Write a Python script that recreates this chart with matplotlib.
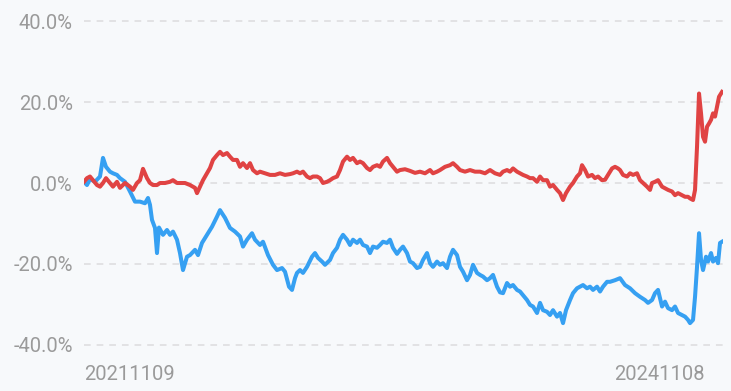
import numpy as np
import matplotlib
matplotlib.use("Agg")
import matplotlib.pyplot as plt
from matplotlib.ticker import FuncFormatter

plt.rcParams['font.family'] = ['Roboto', 'DejaVu Sans']

# ================== data (trading-day index, return %) ==================
red_t = [0, 3, 6, 9, 13, 16, 19, 22, 26, 29, 33, 36, 41, 46, 49, 53, 56, 59, 63, 66,
         69, 73, 76, 81, 86, 89, 93, 96, 101, 106, 111, 113, 116, 119, 123, 126, 129, 133, 136, 139,
         143, 146, 149, 153, 156, 159, 163, 166, 169, 173, 176, 181, 186, 191, 196, 201, 206, 209, 213, 216,
         219, 223, 226, 229, 233, 236, 239, 243, 246, 249, 253, 256, 259, 263, 266, 269, 273, 276, 279, 283,
         286, 289, 293, 296, 299, 303, 306, 309, 313, 316, 321, 326, 331, 336, 341, 346, 349, 353, 356, 361,
         366, 369, 373, 376, 381, 386, 391, 396, 401, 406, 411, 416, 419, 423, 426, 429, 433, 436, 439, 443,
         446, 449, 453, 456, 459, 463, 466, 469, 473, 476, 479, 482, 486, 489, 493, 496, 498, 501, 504, 508,
         511, 514, 518, 521, 524, 528, 531, 534, 536, 539, 543, 546, 549, 553, 556, 559, 563, 566, 568, 571,
         574, 578, 581, 584, 588, 591, 594, 598, 601, 604, 606, 609, 611, 613, 615, 617, 619, 621, 623, 625,
         627, 629, 631, 633, 635, 638]
red_v = [0.3, 1.2, 1.6, 0.7, -0.5, -0.9, 0.0, 1.2, 0.0, -0.9, 0.3, -1.2, 0.0, -0.9, -1.7, 0.0, 0.7, 3.5, 1.2, 0.0,
         -0.5, -0.5, 0.0, 0.0, 0.3, 0.7, 0.0, 0.0, 0.0, -0.5, -1.2, -2.5, -0.9, 0.7, 2.4, 3.7, 5.7, 6.9, 7.7, 6.9,
         7.4, 6.5, 5.7, 5.7, 4.0, 4.9, 3.7, 4.9, 3.2, 2.4, 2.8, 2.4, 2.0, 2.0, 2.4, 2.0, 2.2, 2.4, 2.8, 2.4,
         2.8, 1.6, 1.2, 1.6, 1.6, 1.2, 0.0, 0.3, 0.7, 1.2, 1.6, 3.2, 5.3, 6.5, 5.7, 6.2, 4.9, 5.3, 4.9, 3.7,
         3.2, 4.0, 4.4, 4.0, 5.3, 6.2, 4.9, 4.0, 2.8, 3.2, 3.4, 3.0, 2.5, 2.8, 2.4, 3.2, 2.4, 2.8, 3.2, 4.0,
         4.4, 4.9, 4.0, 3.2, 2.8, 3.2, 2.8, 2.8, 2.4, 3.2, 2.4, 2.0, 2.8, 3.2, 2.8, 3.6, 2.8, 2.4, 2.0, 1.6,
         1.2, 1.2, 0.3, 1.6, 0.7, 0.7, -0.9, -0.5, -1.7, -2.5, -4.2, -2.5, -0.9, 0.0, 1.6, 2.4, 4.4, 3.2, 1.6, 2.0,
         1.2, 1.6, 0.7, 0.8, 2.0, 3.6, 4.0, 3.6, 3.2, 2.0, 1.6, 2.4, 2.0, 2.4, 0.7, 0.0, -0.9, -1.7, 0.0, 0.3,
         0.7, -0.9, -1.3, -1.7, -2.1, -3.0, -2.5, -3.0, -3.4, -3.4, -3.8, -4.2, -1.7, 9.0, 22.1, 17.2, 11.4, 10.2, 13.9, 14.7,
         15.6, 17.2, 16.4, 18.8, 21.3, 22.5]

blue_t = [0, 3, 6, 11, 16, 19, 22, 26, 29, 33, 36, 41, 46, 51, 56, 61, 64, 66, 68, 71,
          73, 75, 79, 83, 86, 89, 93, 96, 99, 103, 106, 111, 114, 118, 123, 128, 133, 136, 141, 146,
          151, 156, 159, 163, 168, 171, 176, 179, 184, 189, 193, 198, 201, 205, 208, 211, 213, 216, 219, 223,
          228, 231, 234, 238, 241, 246, 249, 253, 256, 259, 263, 266, 269, 273, 276, 279, 283, 286, 289, 293,
          296, 299, 303, 306, 309, 313, 316, 319, 323, 326, 329, 333, 336, 339, 343, 346, 349, 353, 356, 359,
          363, 366, 369, 373, 376, 379, 383, 386, 389, 393, 396, 399, 403, 406, 409, 413, 416, 419, 423, 426,
          429, 433, 436, 439, 443, 446, 449, 453, 456, 459, 463, 466, 469, 473, 476, 479, 482, 486, 489, 493,
          496, 499, 503, 506, 509, 513, 516, 519, 523, 526, 531, 536, 541, 546, 551, 556, 561, 564, 568, 571,
          574, 578, 581, 584, 588, 591, 594, 598, 601, 604, 606, 609, 611, 613, 615, 617, 619, 622, 624, 627,
          629, 632, 634, 636, 638]
blue_v = [0.3, -0.5, 1.0, 0.3, 1.6, 6.2, 4.0, 2.8, 2.4, 2.0, 1.2, 0.3, -2.1, -4.6, -4.6, -5.0, -3.7, -5.4, -9.1, -11.1,
          -17.3, -11.0, -12.8, -11.6, -12.8, -12.0, -14.0, -17.3, -21.5, -18.2, -17.8, -16.5, -17.8, -14.8, -12.8, -10.8, -8.3, -6.7, -8.6, -11.1,
          -12.0, -13.2, -15.7, -14.0, -12.4, -14.0, -15.3, -14.5, -17.8, -20.2, -21.5, -21.0, -21.9, -25.6, -26.4, -23.5, -22.2, -21.5, -22.2, -20.7,
          -18.2, -17.3, -18.5, -19.4, -20.2, -19.0, -17.3, -16.0, -14.0, -12.8, -14.0, -15.3, -14.0, -14.8, -14.0, -15.3, -15.7, -17.3, -15.7, -16.0,
          -15.3, -14.5, -14.8, -14.0, -16.0, -17.5, -16.5, -15.7, -17.3, -19.4, -19.8, -21.0, -20.7, -19.0, -17.3, -19.8, -20.7, -19.4, -20.2, -19.8,
          -21.0, -18.2, -16.5, -17.8, -20.7, -21.9, -24.0, -22.7, -20.2, -22.2, -22.7, -23.1, -24.0, -23.5, -22.7, -25.6, -27.0, -27.2, -24.7, -25.6,
          -25.2, -26.4, -26.8, -27.7, -28.9, -30.1, -30.5, -32.1, -29.6, -31.4, -31.8, -32.6, -31.4, -33.0, -32.1, -34.6, -31.4, -28.9, -27.2, -26.0,
          -25.6, -25.2, -26.0, -25.6, -26.4, -25.6, -26.8, -25.6, -24.4, -24.4, -24.0, -23.5, -25.2, -26.0, -27.2, -28.1, -28.9, -29.6, -28.9, -27.2,
          -26.4, -30.5, -29.3, -30.9, -31.4, -30.5, -32.1, -32.6, -33.0, -33.8, -34.6, -33.8, -28.1, -20.7, -12.4, -19.0, -21.5, -18.2, -19.4, -17.3,
          -19.4, -18.5, -19.8, -14.8, -14.5]

y_ticks = [-40, -20, 0, 20, 40]
date_labels = ["20211109", "20241108"]
date_pos = [0, 621]

RED = "#e04343"
BLUE = "#36a0f2"
BG = "#f7f9fb"

# ================== plot ==================
fig = plt.figure(figsize=(7.31, 3.91), dpi=100, facecolor=BG)
ax = fig.add_axes([0.1149, 0.1125, 0.8742, 0.8389], facecolor=BG)

ax.plot(blue_t, blue_v, color=BLUE, linewidth=2.9, solid_joinstyle="round", zorder=3)
ax.plot(red_t, red_v, color=RED, linewidth=2.9, solid_joinstyle="round", zorder=4)

ax.set_xlim(0, 639)
ax.set_ylim(-40.5, 40.5)
ax.set_yticks(y_ticks)
ax.yaxis.set_major_formatter(FuncFormatter(lambda v, p: f"{v:.1f}%"))
ax.grid(axis="y", color="#e0e0e2", linestyle=(0, (3.7, 3.3)), linewidth=1.3, zorder=1)

ax.set_xticks(date_pos)
ax.set_xticklabels(date_labels)
xl = ax.get_xticklabels()
xl[0].set_ha("left")
xl[1].set_ha("right")

ax.tick_params(axis="both", length=0, labelsize=14.5, labelcolor="#9a9a9a")
ax.tick_params(axis="y", pad=8)
ax.tick_params(axis="x", pad=13)

for s in ax.spines.values():
    s.set_visible(False)

fig.savefig("out.png", dpi=100, facecolor=BG)
